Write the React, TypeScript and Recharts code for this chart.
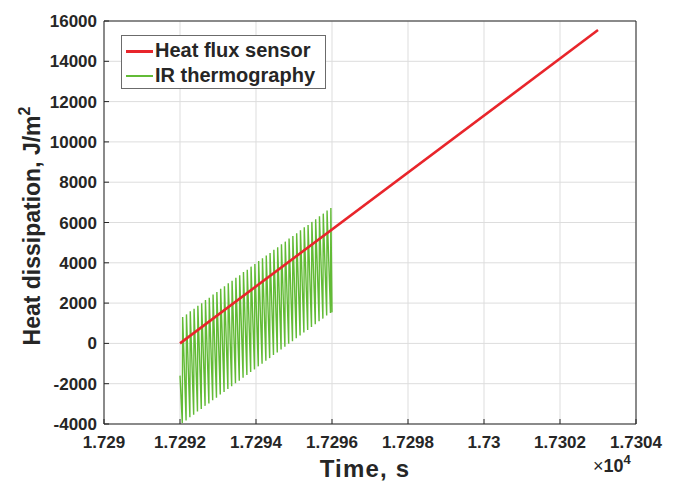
import React from 'react';
import { LineChart, Line, XAxis, YAxis, CartesianGrid, ReferenceArea, Legend, Label } from 'recharts';

const xTicks = [17290, 17292, 17294, 17296, 17298, 17300, 17302, 17304];
const yTicks = [-4000, -2000, 0, 2000, 4000, 6000, 8000, 10000, 12000, 14000, 16000];

const hfTime = [17292, 17303];
const hfValue = [0, 15550];

const irTime = [
  17292.0,
  17292.06, 17292.07, 17292.16, 17292.17, 17292.26, 17292.27, 17292.36, 17292.37, 17292.46, 17292.47,
  17292.56, 17292.57, 17292.66, 17292.67, 17292.76, 17292.77, 17292.86, 17292.87, 17292.96, 17292.97,
  17293.06, 17293.07, 17293.16, 17293.17, 17293.26, 17293.27, 17293.36, 17293.37, 17293.46, 17293.47,
  17293.56, 17293.57, 17293.66, 17293.67, 17293.76, 17293.77, 17293.86, 17293.87, 17293.96, 17293.97,
  17294.06, 17294.07, 17294.16, 17294.17, 17294.26, 17294.27, 17294.36, 17294.37, 17294.46, 17294.47,
  17294.56, 17294.57, 17294.66, 17294.67, 17294.76, 17294.77, 17294.86, 17294.87, 17294.96, 17294.97,
  17295.06, 17295.07, 17295.16, 17295.17, 17295.26, 17295.27, 17295.36, 17295.37, 17295.46, 17295.47,
  17295.56, 17295.57, 17295.66, 17295.67, 17295.76, 17295.77, 17295.86, 17295.87, 17295.96, 17295.97,
  17296.0,
];
const irValue = [
  -1600,
  -3950, 1310, -3820, 1440, -3670, 1600, -3540, 1720, -3380, 1870,
  -3260, 1990, -3100, 2150, -2980, 2270, -2820, 2430, -2700, 2550,
  -2540, 2710, -2410, 2830, -2260, 2980, -2130, 3110, -1980, 3260,
  -1850, 3380, -1700, 3540, -1570, 3660, -1420, 3810, -1290, 3940,
  -1140, 4090, -1010, 4220, -860, 4360, -730, 4490, -580, 4650,
  -450, 4770, -300, 4920, -170, 5050, -20, 5200, 110, 5330,
  260, 5470, 390, 5610, 540, 5760, 670, 5880, 820, 6030,
  950, 6160, 1100, 6310, 1230, 6440, 1380, 6590, 1510, 6720,
  1540,
];

const seriesNames = ['Heat flux sensor', 'IR thermography'];
const seriesColors = ['#e8252b', '#62bb36'];

const hfData = hfTime.map((t, i) => ({ t, v: hfValue[i] }));
const irData = irTime.map((t, i) => ({ t, v: irValue[i] }));

const FONT = '"Liberation Sans", Arial, Helvetica, sans-serif';
const AXIS = '#262626';
const TICK_LEN = 5;

const fmtX = (v: number) => String(parseFloat((v / 1e4).toFixed(5)));

const BottomTick = (props: any) => {
  const { x, y, payload } = props;
  return (
    <g>
      <line x1={x} x2={x} y1={y} y2={y - TICK_LEN} stroke={AXIS} strokeWidth={1} />
      <text x={x} y={y + 24} textAnchor="middle" fontFamily={FONT} fontWeight="bold" fontSize={17} fill={AXIS}>
        {fmtX(payload.value)}
      </text>
    </g>
  );
};

const TopTick = (props: any) => {
  const { x, y } = props;
  return <line x1={x} x2={x} y1={y} y2={y + TICK_LEN} stroke={AXIS} strokeWidth={1} />;
};

const LeftTick = (props: any) => {
  const { x, y, payload } = props;
  return (
    <g>
      <line x1={x} x2={x + TICK_LEN} y1={y} y2={y} stroke={AXIS} strokeWidth={1} />
      <text x={x - 7} y={y + 6} textAnchor="end" fontFamily={FONT} fontWeight="bold" fontSize={17} fill={AXIS}>
        {payload.value}
      </text>
    </g>
  );
};

const RightTick = (props: any) => {
  const { x, y } = props;
  return <line x1={x} x2={x - TICK_LEN} y1={y} y2={y} stroke={AXIS} strokeWidth={1} />;
};

const XTitle = () => (
  <g>
    <text
      x={365}
      y={477}
      textAnchor="middle"
      fontFamily={FONT}
      fontWeight="bold"
      fontSize={24}
      letterSpacing={1.2}
      fill={AXIS}
    >
      Time, s
    </text>
    <text x={593} y={472} fontFamily={FONT} fontWeight="bold" fontSize={18} fill={AXIS}>
      <tspan fontWeight="normal">×</tspan>
      <tspan>10</tspan>
      <tspan dy={-8} fontSize={13}>4</tspan>
    </text>
  </g>
);

const YTitle = () => (
  <text
    transform="translate(40, 226) rotate(-90)"
    textAnchor="middle"
    fontFamily={FONT}
    fontWeight="bold"
    fontSize={23}
    fill={AXIS}
  >
    <tspan>Heat dissipation, J/m</tspan>
    <tspan dy={-10} fontSize={16}>2</tspan>
  </text>
);

const LegendBox = () => (
  <div
    style={{
      position: 'relative',
      width: 205,
      height: 54,
      boxSizing: 'border-box',
      border: '1px solid #6b6b6b',
      background: '#ffffff',
      fontFamily: FONT,
      fontWeight: 'bold',
      fontSize: 20,
      color: AXIS,
      textAlign: 'left',
    }}
  >
    {seriesNames.map((name, i) => (
      <div key={name} style={{ position: 'absolute', left: 0, top: 2 + i * 25, height: 25, width: 203 }}>
        <div
          style={{
            position: 'absolute',
            left: 4,
            top: 12,
            width: 27,
            height: i === 0 ? 3 : 1.5,
            background: seriesColors[i],
          }}
        />
        <div style={{ position: 'absolute', left: 33, top: 1, lineHeight: '23px', whiteSpace: 'nowrap' }}>{name}</div>
      </div>
    ))}
  </div>
);

export default function App() {
  return (
    <div style={{ position: 'absolute', left: 0, top: 0, width: 675, height: 484, background: '#fff' }}>
      <LineChart width={675} height={484} margin={{ top: 21, right: 39, bottom: 0, left: 0 }}>
        <CartesianGrid stroke="#dddddd" strokeWidth={1} />
        <XAxis
          type="number"
          dataKey="t"
          domain={[17290, 17304]}
          ticks={xTicks}
          allowDataOverflow
          height={60}
          axisLine={false}
          tickLine={false}
          tickSize={0}
          tickMargin={0}
          tick={BottomTick}
        >
          <Label content={XTitle} />
        </XAxis>
        <XAxis
          xAxisId="top"
          orientation="top"
          type="number"
          dataKey="t"
          domain={[17290, 17304]}
          ticks={xTicks}
          allowDataOverflow
          height={0}
          axisLine={false}
          tickLine={false}
          tickSize={0}
          tickMargin={0}
          tick={TopTick}
        />
        <YAxis
          type="number"
          domain={[-4000, 16000]}
          ticks={yTicks}
          allowDataOverflow
          width={104}
          axisLine={false}
          tickLine={false}
          tickSize={0}
          tickMargin={0}
          tick={LeftTick}
        >
          <Label content={YTitle} />
        </YAxis>
        <YAxis
          yAxisId="right"
          orientation="right"
          type="number"
          domain={[-4000, 16000]}
          ticks={yTicks}
          allowDataOverflow
          width={0}
          axisLine={false}
          tickLine={false}
          tickSize={0}
          tickMargin={0}
          tick={RightTick}
        />
        <ReferenceArea
          x1={17290}
          x2={17304}
          y1={-4000}
          y2={16000}
          fill="none"
          fillOpacity={0}
          stroke={AXIS}
          strokeWidth={1}
          ifOverflow="visible"
        />
        <Line
          data={irData}
          dataKey="v"
          name={seriesNames[1]}
          stroke={seriesColors[1]}
          strokeWidth={1.4}
          dot={false}
          activeDot={false}
          isAnimationActive={false}
        />
        <Line
          data={hfData}
          dataKey="v"
          name={seriesNames[0]}
          stroke={seriesColors[0]}
          strokeWidth={2.6}
          dot={false}
          activeDot={false}
          isAnimationActive={false}
        />
        <Legend
          layout="horizontal"
          verticalAlign="middle"
          align="center"
          content={LegendBox}
          wrapperStyle={{ left: 121, top: 35, width: 205, height: 54 }}
        />
      </LineChart>
    </div>
  );
}
